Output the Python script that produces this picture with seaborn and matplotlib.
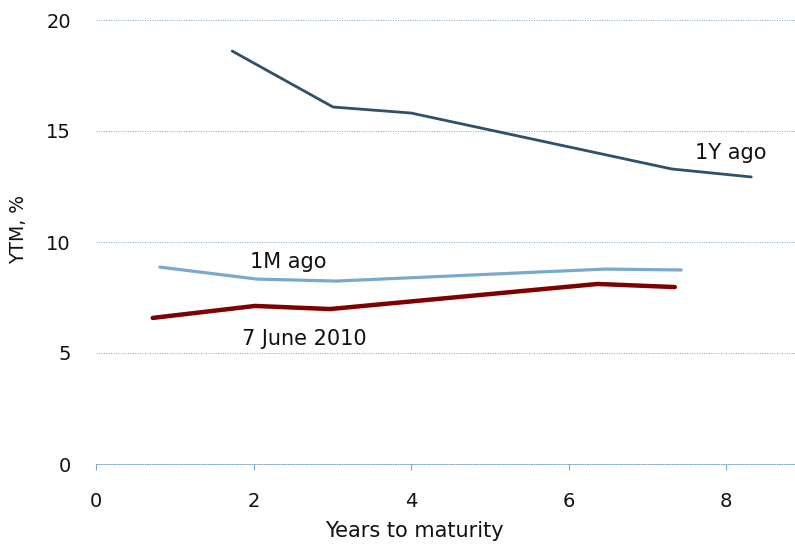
import matplotlib
matplotlib.use("Agg")
import matplotlib.pyplot as plt
import seaborn as sns
import pandas as pd

# Yield curves: years to maturity vs yield to maturity (%)
yr_1y = [1.73, 3.01, 4.00, 7.31, 8.32]
ytm_1y = [18.60, 16.08, 15.81, 13.29, 12.93]

yr_1m = [0.81, 2.04, 3.05, 6.46, 7.43]
ytm_1m = [8.87, 8.33, 8.24, 8.78, 8.74]

yr_now = [0.72, 2.02, 2.97, 6.37, 7.35]
ytm_now = [6.58, 7.12, 6.98, 8.11, 7.97]

series_names = ["1Y ago", "1M ago", "7 June 2010"]
colors = ["#2F5068", "#79AACB", "#7E0000"]
widths = [2.0, 2.3, 3.2]

x_ticks = [0, 2, 4, 6, 8]
y_ticks = [0, 5, 10, 15, 20]

frames = []
for name, xs, ys in zip(series_names,
                        [yr_1y, yr_1m, yr_now],
                        [ytm_1y, ytm_1m, ytm_now]):
    frames.append(pd.DataFrame({"years": xs, "ytm": ys, "curve": name}))
df = pd.concat(frames, ignore_index=True)

sns.set_theme(style="white")
plt.rcParams["font.family"] = ["DejaVu Sans"]

fig = plt.figure(figsize=(7.95, 5.48), dpi=100)
ax = fig.add_axes([96 / 795, 84 / 548, 1 - 96 / 795, 444 / 548])

for name, col, lw in zip(series_names, colors, widths):
    sns.lineplot(data=df[df["curve"] == name], x="years", y="ytm",
                 color=col, linewidth=lw, ax=ax, legend=False,
                 sort=False, estimator=None)

ax.set_xlim(0, 8.876)
ax.set_ylim(0, 20)
ax.set_xticks(x_ticks)
ax.set_yticks(y_ticks)

grid_col = "#7BA7C9"
ax.yaxis.grid(True, color=grid_col, linestyle=(0, (1, 1.5)), linewidth=0.7)
ax.xaxis.grid(False)
for side in ["left", "right", "top"]:
    ax.spines[side].set_visible(False)
ax.spines["bottom"].set_color(grid_col)
ax.spines["bottom"].set_linestyle((0, (1, 1.5)))
ax.spines["bottom"].set_linewidth(0.7)
ax.set_axisbelow(True)

ax.tick_params(axis="x", which="major", direction="out", length=4,
               width=0.8, color=grid_col, bottom=True, pad=16,
               labelsize=14, labelcolor="#111111")
ax.tick_params(axis="y", length=0, pad=18, labelsize=14,
               labelcolor="#111111")

ax.set_xlabel("Years to maturity", fontsize=15, color="#111111")
ax.xaxis.set_label_coords(0.456, -0.128)
ax.set_ylabel("YTM, %", fontsize=13.5, color="#111111")
ax.yaxis.set_label_coords(-0.097, 0.529)

ax.text(8.06, 14.0, "1Y ago", fontsize=15, ha="center", va="center",
        color="#111111")
ax.text(2.44, 9.1, "1M ago", fontsize=15, ha="center", va="center",
        color="#111111")
ax.text(2.64, 5.63, "7 June 2010", fontsize=15, ha="center", va="center",
        color="#111111")

fig.savefig("out.png", dpi=100)
